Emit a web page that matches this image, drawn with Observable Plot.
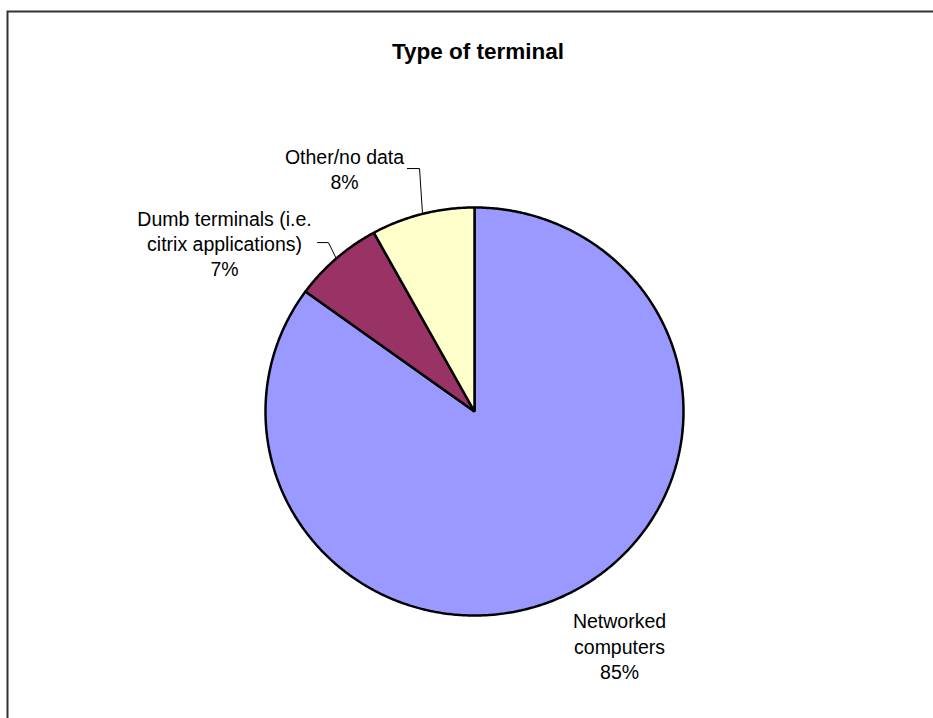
<!DOCTYPE html>
<html>
<head>
<meta charset="utf-8">
<script src="https://cdn.jsdelivr.net/npm/d3@7"></script>
<script src="https://cdn.jsdelivr.net/npm/@observablehq/plot@0.6"></script>
<style>
  html, body { margin: 0; padding: 0; background: #fff; }
  #chart svg { display: block; }
</style>
</head>
<body>
<div id="chart"></div>
<script>
// Share of respondents by type of terminal (percent), clockwise from 12 o'clock
const categories = ["Networked computers", "Dumb terminals (i.e. citrix applications)", "Other/no data"];
const shares = [85, 7, 8];
const labelLines = [
  "Networked\ncomputers\n85%",
  "Dumb terminals (i.e.\ncitrix applications)\n7%",
  "Other/no data\n8%"
];
const colors = ["#9999FF", "#993366", "#FFFFCC"];
const title = "Type of terminal";

// Label placement in unit-circle coordinates (x right, y up)
const labelAt = [[0.694, -1.147], [-1.196, 0.826], [-0.622, 1.191]];
// Leader elbows: [elbow, end] for slices that have a leader line
const leaderAt = [null, [[-0.699, 0.828], [-0.751, 0.828]], [[-0.263, 1.191], [-0.321, 1.191]]];

const arcs = d3.pie().sort(null).value(d => d)(shares);
const pt = a => [Math.sin(a), Math.cos(a)];

// Slice outlines as closed polygons: centre, arc samples
const slicePts = [];
arcs.forEach((a, i) => {
  slicePts.push({x: 0, y: 0, k: categories[i]});
  const n = Math.max(2, Math.ceil((a.endAngle - a.startAngle) / (Math.PI / 360)));
  for (let j = 0; j <= n; j++) {
    const t = a.startAngle + (a.endAngle - a.startAngle) * j / n;
    const [x, y] = pt(t);
    slicePts.push({x, y, k: categories[i]});
  }
});

const leaderPts = [];
arcs.forEach((a, i) => {
  if (!leaderAt[i]) return;
  const [x, y] = pt((a.startAngle + a.endAngle) / 2);
  leaderPts.push({x, y, k: categories[i]});
  leaderAt[i].forEach(([lx, ly]) => leaderPts.push({x: lx, y: ly, k: categories[i]}));
});

const labels = categories.map((c, i) => ({x: labelAt[i][0], y: labelAt[i][1], text: labelLines[i]}));

const chart = Plot.plot({
  width: 933,
  height: 718,
  margin: 0,
  style: {fontFamily: "Liberation Sans, Arial, sans-serif", background: "#fff"},
  x: {domain: [-1, 1], range: [265, 683], axis: null},
  y: {domain: [-1, 1], range: [615, 207], axis: null},
  color: {domain: categories, range: colors},
  marks: [
    Plot.frame({stroke: "#333", strokeWidth: 2, insetLeft: 7, insetTop: 11, insetRight: -20, insetBottom: -20}),
    Plot.text([title], {frameAnchor: "top", dx: 11, dy: 51, lineAnchor: "middle", fontSize: 22.5, fontWeight: "bold", fill: "#000"}),
    Plot.line(slicePts, {x: "x", y: "y", z: "k", fill: "k", stroke: "#000", strokeWidth: 2.5, curve: "linear-closed", strokeLinejoin: "miter"}),
    Plot.line(leaderPts, {x: "x", y: "y", z: "k", stroke: "#000", strokeWidth: 1}),
    Plot.text(labels, {x: "x", y: "y", text: "text", fontSize: 19.5, lineHeight: 1.3, lineAnchor: "middle", textAnchor: "middle", fill: "#000"})
  ]
});
document.getElementById("chart").append(chart);
</script>
</body>
</html>
